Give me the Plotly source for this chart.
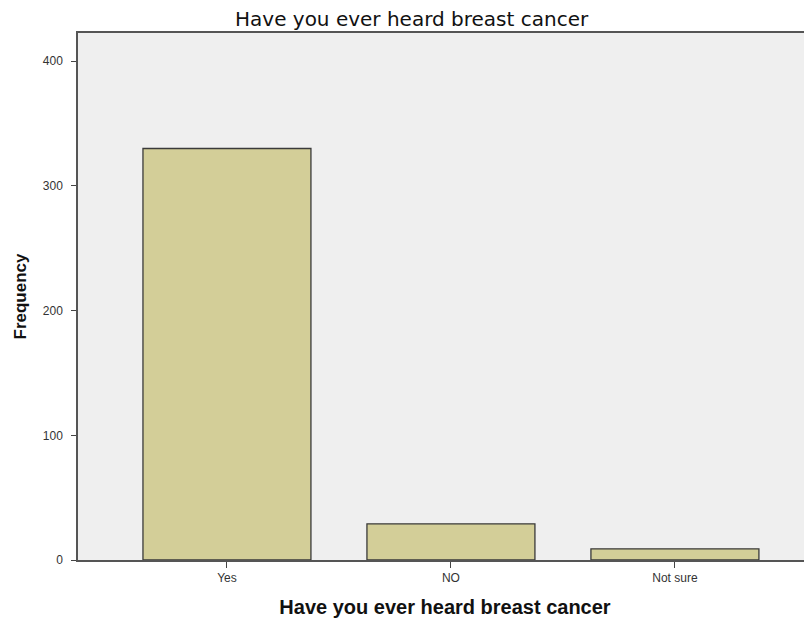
import plotly.graph_objects as go

categories = ["Yes", "NO", "Not sure"]
frequency = [330, 29, 9]
y_ticks = [0, 100, 200, 300, 400]

fig = go.Figure()
fig.add_trace(go.Bar(
    x=categories,
    y=frequency,
    width=0.75,
    marker=dict(color="#D3CE98", line=dict(color="#3A3A3A", width=1.3)),
))

# page body has an 8px default margin, so the figure is sized to fill the 812x622 window
fig.update_layout(
    width=804,
    height=614,
    margin=dict(l=70, r=0, t=25, b=62),
    paper_bgcolor="white",
    plot_bgcolor="#EFEFEF",
    showlegend=False,
    title=dict(
        text="Have you ever heard breast cancer",
        x=0.502, xanchor="center", xref="container",
        y=0.982, yanchor="middle", yref="container",
        font=dict(family="DejaVu Sans, Arial", size=20, color="#111111"),
    ),
    font=dict(family="Liberation Sans, Arial", color="#333333"),
)

fig.update_xaxes(
    type="category",
    range=[-0.665, 2.612],
    showline=True, linecolor="#555555", linewidth=1.5, mirror=True,
    ticks="outside", ticklen=6, tickcolor="#444444", tickwidth=1.3,
    tickfont=dict(size=12, color="#333333"),
    showgrid=False,
    title=dict(text="<b>Have you ever heard breast cancer</b>",
               font=dict(family="Liberation Sans, Arial", size=20, color="#111111"),
               standoff=16),
)
fig.update_yaxes(
    range=[0, 422.6],
    tickvals=y_ticks,
    showline=True, linecolor="#555555", linewidth=1.5,
    ticks="outside", ticklen=5, tickcolor="#444444", tickwidth=1.3,
    tickfont=dict(size=12, color="#333333"),
    ticklabelstandoff=6,
    showgrid=False, zeroline=False,
    title=dict(text="<b>Frequency</b>",
               font=dict(family="Liberation Sans, Arial", size=17, color="#111111"),
               standoff=12),
)

fig.write_html("out.html")
